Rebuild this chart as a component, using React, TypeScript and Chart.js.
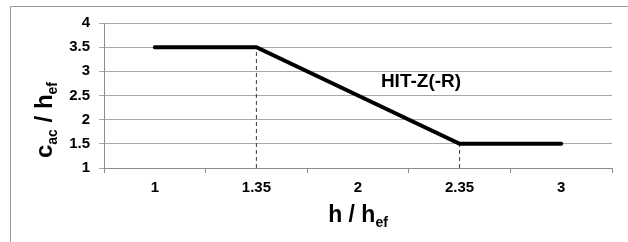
import React, { useEffect, useRef } from "react";
import { Chart, registerables } from "chart.js";

Chart.register(...registerables);

const categories = ["1", "1.35", "2", "2.35", "3"];
const cacRatio = [3.5, 3.5, 2.5, 1.5, 1.5];
const dropX = ["1.35", "2.35"];
const dropTop = [3.5, 1.5];
const yMin = 1;
const yMax = 4;
const yStep = 0.5;
const curveLabel = "HIT-Z(-R)";
const curveLabelX = 2.62;
const curveLabelY = 2.78;

const FONT = "'Liberation Sans', Arial, sans-serif";

type Part = { t: string; sub?: boolean };

function drawParts(ctx: CanvasRenderingContext2D, parts: Part[], main: number, sub: number, subDrop: number) {
  const fontFor = (p: Part) => `bold ${p.sub ? sub : main}px ${FONT}`;
  let total = 0;
  const widths = parts.map((p) => {
    ctx.font = fontFor(p);
    const w = ctx.measureText(p.t).width;
    total += w;
    return w;
  });
  let x = -total / 2;
  ctx.textAlign = "left";
  ctx.textBaseline = "alphabetic";
  parts.forEach((p, i) => {
    ctx.font = fontFor(p);
    ctx.fillText(p.t, x, p.sub ? subDrop : 0);
    x += widths[i];
  });
}

const decorPlugin = {
  id: "decor",
  beforeDraw(chart: any) {
    const ctx = chart.ctx as CanvasRenderingContext2D;
    ctx.save();
    ctx.fillStyle = "#ffffff";
    ctx.fillRect(0, 0, chart.width, chart.height);
    ctx.strokeStyle = "#9a9a9a";
    ctx.lineWidth = 1;
    ctx.beginPath();
    ctx.moveTo(10.5, chart.height + 5);
    ctx.lineTo(10.5, 6.5);
    ctx.lineTo(chart.width + 5, 6.5);
    ctx.stroke();
    ctx.restore();
  },
  afterDraw(chart: any) {
    const ctx = chart.ctx as CanvasRenderingContext2D;
    const area = chart.chartArea;
    const xs = chart.scales.x;
    const ys = chart.scales.y;
    ctx.save();
    ctx.fillStyle = "#000000";
    // x title
    ctx.save();
    ctx.translate((area.left + area.right) / 2, 222);
    drawParts(ctx, [{ t: "h / h" }, { t: "ef", sub: true }], 23, 14, 5);
    ctx.restore();
    // y title
    ctx.save();
    ctx.translate(52, 120);
    ctx.rotate(-Math.PI / 2);
    drawParts(ctx, [{ t: "c" }, { t: "ac", sub: true }, { t: " / h" }, { t: "ef", sub: true }], 24, 14, 5);
    ctx.restore();
    // curve label
    ctx.font = `bold 19px ${FONT}`;
    ctx.textAlign = "center";
    ctx.textBaseline = "middle";
    ctx.fillText(curveLabel, xs.getPixelForValue(curveLabelX), ys.getPixelForValue(curveLabelY));
    ctx.restore();
  },
};

export default function App() {
  const ref = useRef<HTMLCanvasElement | null>(null);
  useEffect(() => {
    document.body.style.margin = "0";
    const canvas = ref.current!;
    const dashed = dropX.map((x, i) => ({
      data: [
        { x, y: yMin },
        { x, y: dropTop[i] },
      ],
      borderColor: "#3a3a3a",
      borderWidth: 1,
      borderDash: [4, 3],
      pointRadius: 0,
      order: 2,
    }));
    const chart = new Chart(canvas, {
      type: "line",
      data: {
        labels: categories,
        datasets: [
          {
            data: cacRatio,
            borderColor: "#000000",
            borderWidth: 4,
            borderCapStyle: "round",
            pointRadius: 0,
            tension: 0,
            order: 1,
          } as any,
          ...(dashed as any[]),
        ],
      },
      options: {
        responsive: false,
        animation: false,
        layout: { padding: { top: 23, right: 16, left: 0, bottom: 0 } },
        plugins: { legend: { display: false }, tooltip: { enabled: false }, title: { display: false } },
        scales: {
          x: {
            type: "category",
            offset: true,
            afterFit: (s: any) => {
              s.height = 74;
            },
            grid: {
              offset: true,
              drawOnChartArea: false,
              drawTicks: true,
              tickLength: 5,
              color: "#8c8c8c",
            },
            border: { display: true, color: "#8c8c8c", width: 1 },
            ticks: {
              color: "#000000",
              font: { family: FONT, size: 15, weight: "bold" },
              padding: 6,
              maxRotation: 0,
            },
          },
          y: {
            min: yMin,
            max: yMax,
            afterFit: (s: any) => {
              s.width = 104;
            },
            grid: { color: "#a8a8a8", tickLength: 5, lineWidth: 1 },
            border: { display: true, color: "#8c8c8c", width: 1 },
            ticks: {
              stepSize: yStep,
              color: "#000000",
              font: { family: FONT, size: 15, weight: "bold" },
              padding: 9,
              callback: (v: any) => String(Number(v)),
            },
          },
        },
      } as any,
      plugins: [decorPlugin],
    });
    return () => chart.destroy();
  }, []);
  return (
    <div style={{ width: 628, height: 242 }}>
      <canvas ref={ref} width={628} height={242} style={{ display: "block" }} />
    </div>
  );
}
